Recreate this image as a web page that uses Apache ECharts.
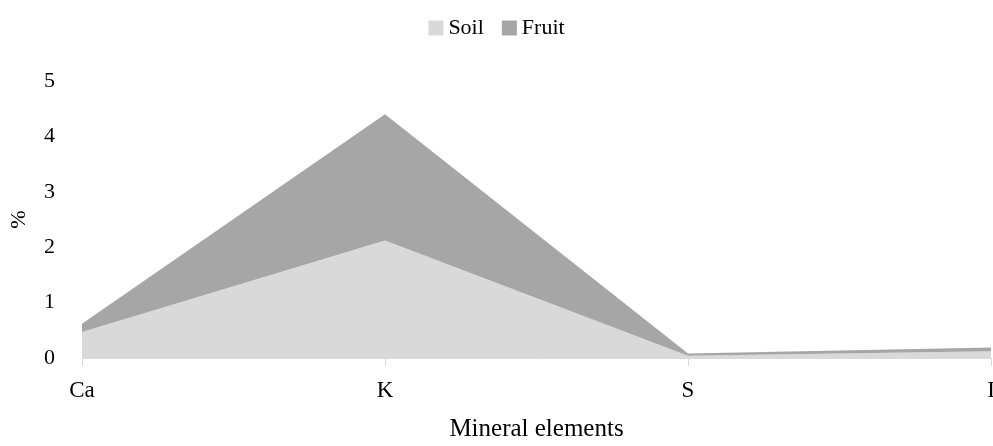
<!DOCTYPE html>
<html>
<head>
<meta charset="utf-8">
<script src="https://cdn.jsdelivr.net/npm/echarts@6/dist/echarts.min.js"></script>
<style>
  html, body { margin: 0; padding: 0; background: #fff; }
  #chart { width: 993px; height: 446px; }
</style>
</head>
<body>
<div id="chart"></div>
<script>
var elements = ['Ca', 'K', 'S', 'I'];
var soil = [0.47, 2.12, 0.04, 0.12];
var fruit = [0.15, 2.28, 0.04, 0.07];
var yTicks = [0, 1, 2, 3, 4, 5];

var font = '"Liberation Serif", "DejaVu Serif", serif';
var chart = echarts.init(document.getElementById('chart'));
var option = {
    animation: false,
    textStyle: { fontFamily: font, color: '#000' },
    legend: {
        top: 12,
        left: 'center',
        itemWidth: 15,
        itemHeight: 15,
        itemGap: 18,
        icon: 'rect',
        textStyle: { fontFamily: font, fontSize: 22, color: '#000' },
        data: ['Soil', 'Fruit']
    },
    grid: { left: 82, right: 2, top: 81, bottom: 88, outerBoundsMode: 'none' },
    xAxis: {
        type: 'category',
        boundaryGap: false,
        data: elements,
        name: 'Mineral elements',
        nameLocation: 'middle',
        nameGap: 59,
        nameTextStyle: { fontFamily: font, fontSize: 25, color: '#000' },
        axisLine: { lineStyle: { color: '#d9d9d9' } },
        axisTick: { show: true, alignWithLabel: true, length: 8, lineStyle: { color: '#d9d9d9' } },
        axisLabel: { fontFamily: font, fontSize: 23, color: '#000', margin: 21 }
    },
    yAxis: {
        type: 'value',
        min: yTicks[0],
        max: yTicks[yTicks.length - 1],
        interval: 1,
        name: '%',
        nameLocation: 'middle',
        nameRotate: 90,
        nameGap: 52,
        nameTextStyle: { fontFamily: font, fontSize: 22, color: '#000' },
        axisLine: { show: false },
        axisTick: { show: false },
        splitLine: { show: false },
        axisLabel: { fontFamily: font, fontSize: 22, color: '#000', margin: 27 }
    },
    series: [
        {
            name: 'Soil',
            type: 'line',
            stack: 'total',
            data: soil,
            showSymbol: false,
            symbol: 'none',
            lineStyle: { width: 0 },
            itemStyle: { color: '#d9d9d9' },
            areaStyle: { color: '#d9d9d9', opacity: 1 }
        },
        {
            name: 'Fruit',
            type: 'line',
            stack: 'total',
            data: fruit,
            showSymbol: false,
            symbol: 'none',
            lineStyle: { width: 0 },
            itemStyle: { color: '#a6a6a6' },
            areaStyle: { color: '#a6a6a6', opacity: 1 }
        }
    ]
};
chart.setOption(option);
</script>
</body>
</html>
